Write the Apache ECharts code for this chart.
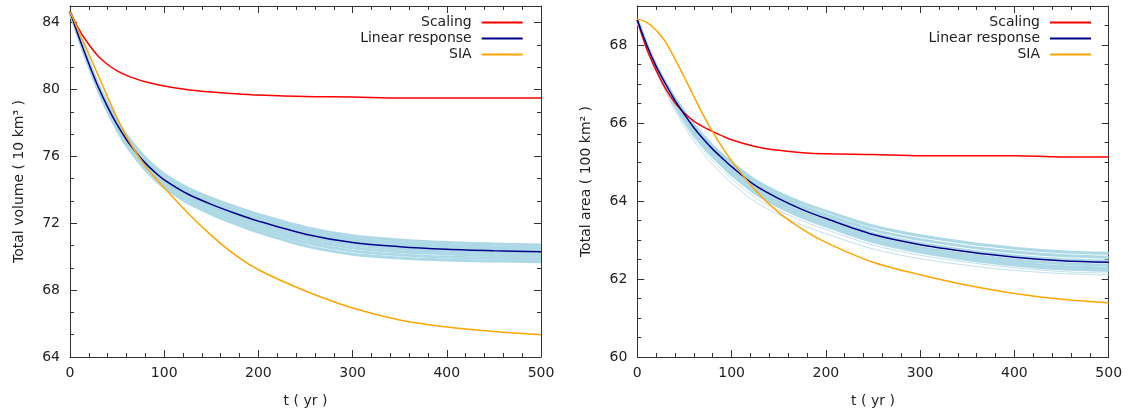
<!DOCTYPE html>
<html>
<head>
<meta charset="utf-8">
<script src="https://cdn.jsdelivr.net/npm/echarts@6/dist/echarts.min.js"></script>
<style>
html,body{margin:0;padding:0;background:#fff;}
#c{width:1131px;height:413px;}
</style>
</head>
<body>
<div id="c"></div>
<script>
// ---------- data ----------
const tYears = [0, 10, 20, 30, 40, 50, 60, 70, 80, 90, 100, 125, 150, 175, 200, 250, 300, 350, 400, 450, 500];
const xTicks = [0, 100, 200, 300, 400, 500];
const volTicks = [64, 68, 72, 76, 80, 84];
const areaTicks = [60, 62, 64, 66, 68];
const legendNames = ['Scaling', 'Linear response', 'SIA'];

// Left panel: total volume
const volScaling = [84.67, 83.55, 82.70, 82.00, 81.50, 81.12, 80.85, 80.64, 80.47, 80.33, 80.21, 79.99, 79.85, 79.75, 79.67, 79.58, 79.56, 79.50, 79.50, 79.50, 79.50];
const volLinear  = [84.67, 83.05, 81.55, 80.15, 78.95, 77.90, 77.00, 76.25, 75.60, 75.06, 74.60, 73.75, 73.13, 72.60, 72.13, 71.35, 70.85, 70.60, 70.45, 70.36, 70.30];
const volSIA     = [84.67, 83.40, 82.12, 80.85, 79.55, 78.30, 77.18, 76.24, 75.42, 74.75, 74.12, 72.62, 71.28, 70.12, 69.22, 67.95, 66.93, 66.22, 65.80, 65.53, 65.33];
const volEns1 = [84.67, 83.10, 81.65, 80.30, 79.15, 78.15, 77.28, 76.55, 75.92, 75.39, 74.94, 74.11, 73.51, 72.99, 72.53, 71.75, 71.25, 71.00, 70.85, 70.76, 70.70];
const volEns2 = [84.67, 83.08, 81.61, 80.24, 79.07, 78.05, 77.17, 76.43, 75.79, 75.26, 74.80, 73.97, 73.36, 72.83, 72.37, 71.59, 71.09, 70.84, 70.69, 70.60, 70.54];
const volEns3 = [84.67, 83.06, 81.58, 80.19, 79.00, 77.96, 77.07, 76.32, 75.68, 75.14, 74.69, 73.84, 73.23, 72.70, 72.23, 71.45, 70.95, 70.70, 70.55, 70.46, 70.40];
const volEns4 = [84.67, 83.04, 81.52, 80.11, 78.90, 77.84, 76.93, 76.18, 75.52, 74.97, 74.51, 73.65, 73.01, 72.48, 72.00, 71.21, 70.71, 70.46, 70.32, 70.24, 70.18];
const volEns5 = [84.67, 83.02, 81.49, 80.06, 78.83, 77.76, 76.85, 76.08, 75.42, 74.87, 74.40, 73.52, 72.87, 72.32, 71.83, 71.03, 70.53, 70.29, 70.16, 70.08, 70.03];
const volEns6 = [84.67, 83.00, 81.45, 80.01, 78.76, 77.68, 76.76, 75.98, 75.31, 74.75, 74.28, 73.38, 72.71, 72.15, 71.65, 70.85, 70.35, 70.11, 69.98, 69.91, 69.87];
const volEns7 = [84.67, 82.98, 81.41, 79.95, 78.69, 77.60, 76.66, 75.88, 75.20, 74.63, 74.15, 73.23, 72.55, 71.98, 71.47, 70.65, 70.15, 69.92, 69.80, 69.74, 69.70];

// Right panel: total area
const areaScaling = [68.64, 67.90, 67.35, 66.88, 66.52, 66.25, 66.05, 65.90, 65.78, 65.67, 65.57, 65.40, 65.30, 65.24, 65.21, 65.19, 65.16, 65.16, 65.16, 65.13, 65.13];
const areaLinear  = [68.64, 68.00, 67.45, 67.00, 66.58, 66.22, 65.88, 65.59, 65.33, 65.10, 64.88, 64.40, 64.06, 63.78, 63.55, 63.14, 62.88, 62.70, 62.56, 62.47, 62.43];
const areaSIA     = [68.67, 68.58, 68.38, 68.08, 67.64, 67.17, 66.68, 66.20, 65.77, 65.38, 65.03, 64.28, 63.70, 63.28, 62.94, 62.43, 62.11, 61.84, 61.63, 61.48, 61.39];
const areaEns1 = [68.64, 68.00, 67.47, 67.03, 66.63, 66.28, 65.95, 65.67, 65.41, 65.19, 64.98, 64.53, 64.21, 63.95, 63.74, 63.36, 63.11, 62.93, 62.79, 62.70, 62.66];
const areaEns2 = [68.64, 68.00, 67.46, 67.02, 66.61, 66.25, 65.92, 65.63, 65.37, 65.15, 64.94, 64.47, 64.14, 63.87, 63.65, 63.26, 63.01, 62.83, 62.69, 62.60, 62.56];
const areaEns3 = [68.64, 68.00, 67.45, 67.00, 66.59, 66.23, 65.89, 65.60, 65.34, 65.11, 64.90, 64.42, 64.08, 63.81, 63.58, 63.17, 62.91, 62.73, 62.59, 62.50, 62.46];
const areaEns4 = [68.64, 67.99, 67.43, 66.97, 66.54, 66.17, 65.82, 65.53, 65.26, 65.03, 64.81, 64.33, 63.99, 63.71, 63.48, 63.08, 62.81, 62.63, 62.49, 62.40, 62.36];
const areaEns5 = [68.64, 67.98, 67.41, 66.94, 66.50, 66.11, 65.76, 65.46, 65.20, 64.96, 64.74, 64.26, 63.92, 63.64, 63.42, 63.01, 62.75, 62.56, 62.42, 62.32, 62.28];
const areaEns6 = [68.64, 67.97, 67.39, 66.91, 66.46, 66.07, 65.71, 65.41, 65.14, 64.91, 64.68, 64.20, 63.86, 63.58, 63.36, 62.96, 62.69, 62.50, 62.36, 62.26, 62.22];
const areaOut1 = [68.64, 67.95, 67.35, 66.85, 66.38, 65.98, 65.61, 65.31, 65.03, 64.80, 64.57, 64.09, 63.76, 63.49, 63.27, 62.87, 62.61, 62.43, 62.29, 62.19, 62.15];
const areaOut2 = [68.64, 67.94, 67.33, 66.81, 66.32, 65.91, 65.53, 65.22, 64.93, 64.69, 64.46, 63.98, 63.65, 63.38, 63.16, 62.77, 62.52, 62.35, 62.22, 62.14, 62.10];

// ---------- chart ----------
const FONT = 'DejaVu Sans';
const AXIS_COLOR = '#333';
const TEXT_COLOR = '#222';
const pairs = vals => tYears.map((t, i) => [t, vals[i]]);

function axisSet(dim, grid, min, max, majorInt, minorInt, name, nameGap, ticks) {
  const main = dim === 'x' ? 'bottom' : 'left';
  const mirror = dim === 'x' ? 'top' : 'right';
  const base = { type: 'value', gridIndex: grid, min: min, max: max, splitLine: { show: false } };
  const lineStyle = { color: AXIS_COLOR, width: 1 };
  return [
    Object.assign({}, base, {
      position: main, interval: majorInt,
      name: name, nameLocation: 'middle', nameGap: nameGap,
      nameTextStyle: { fontFamily: FONT, fontSize: 14, color: TEXT_COLOR },
      axisLine: { show: true, onZero: false, lineStyle: lineStyle },
      axisTick: { show: true, inside: true, length: 7, lineStyle: lineStyle },
      axisLabel: {
        show: true, margin: dim === 'x' ? 9 : 10, fontFamily: FONT, fontSize: 14, color: TEXT_COLOR,
        showMaxLabel: dim === 'x', showMinLabel: true,
        formatter: v => (ticks.indexOf(v) >= 0 ? String(v) : '')
      }
    }),
    Object.assign({}, base, {
      position: main, interval: minorInt,
      axisLine: { show: false, onZero: false },
      axisTick: { show: true, inside: true, length: 4, lineStyle: lineStyle },
      axisLabel: { show: false }
    }),
    Object.assign({}, base, {
      position: mirror, interval: majorInt,
      axisLine: { show: true, onZero: false, lineStyle: lineStyle },
      axisTick: { show: true, inside: true, length: 7, lineStyle: lineStyle },
      axisLabel: { show: false }
    }),
    Object.assign({}, base, {
      position: mirror, interval: minorInt,
      axisLine: { show: false, onZero: false },
      axisTick: { show: true, inside: true, length: 4, lineStyle: lineStyle },
      axisLabel: { show: false }
    })
  ];
}

const xAxes = [].concat(
  axisSet('x', 0, 0, 500, 100, 20, 't ( yr )', 37, xTicks),
  axisSet('x', 1, 0, 500, 100, 20, 't ( yr )', 37, xTicks)
);
const yAxes = [].concat(
  axisSet('y', 0, 64, 85, 4, 4 / 3, 'Total volume ( 10 km\u00B3 )', 44, volTicks),
  axisSet('y', 1, 60, 69, 2, 0.5, 'Total area ( 100 km\u00B2 )', 44, areaTicks)
);

function line(name, vals, color, width, ax) {
  return {
    type: 'line', name: name, data: pairs(vals),
    xAxisIndex: ax, yAxisIndex: ax,
    showSymbol: false, symbol: 'none', smooth: 0.3,
    lineStyle: { color: color, width: width }, itemStyle: { color: color },
    emphasis: { disabled: true }, silent: true, z: 2
  };
}

const ENS = '#add8e6';
const series = [];
[volEns1, volEns2, volEns3, volEns4, volEns5, volEns6, volEns7].forEach((v, i) => series.push(line('ens' + i, v, ENS, 3, 0)));
series.push(line('Scaling', volScaling, '#ff0000', 1.5, 0));
series.push(line('Linear response', volLinear, '#00008b', 1.5, 0));
series.push(line('SIA', volSIA, '#ffa500', 1.5, 0));

[areaEns1, areaEns2, areaEns3, areaEns4, areaEns5, areaEns6].forEach((v, i) => series.push(line('ensA' + i, v, ENS, 3, 4)));
[areaOut1, areaOut2].forEach((v, i) => series.push(line('outA' + i, v, '#bfe0eb', 1, 4)));
series.push(line('Scaling', areaScaling, '#ff0000', 1.5, 4));
series.push(line('Linear response', areaLinear, '#00008b', 1.5, 4));
series.push(line('SIA', areaSIA, '#ffa500', 1.5, 4));

function legend(right) {
  return {
    data: legendNames, orient: 'vertical', align: 'right', right: right, top: 14.5,
    padding: 0, itemGap: 0, itemWidth: 41, itemHeight: 2, icon: 'rect',
    selectedMode: false,
    textStyle: { fontFamily: FONT, fontSize: 14, color: TEXT_COLOR, lineHeight: 16, padding: [0, 5, 0, 0] }
  };
}

const chart = echarts.init(document.getElementById('c'), null, { renderer: 'canvas' });
chart.setOption({
  backgroundColor: '#ffffff',
  animation: false,
  textStyle: { fontFamily: FONT },
  grid: [
    { left: 70, top: 6, width: 471, height: 351.3, containLabel: false },
    { left: 637.3, top: 6, width: 471.4, height: 351.3, containLabel: false }
  ],
  legend: [legend(608.3), legend(40)],
  xAxis: xAxes,
  yAxis: yAxes,
  series: series
});
</script>
</body>
</html>
